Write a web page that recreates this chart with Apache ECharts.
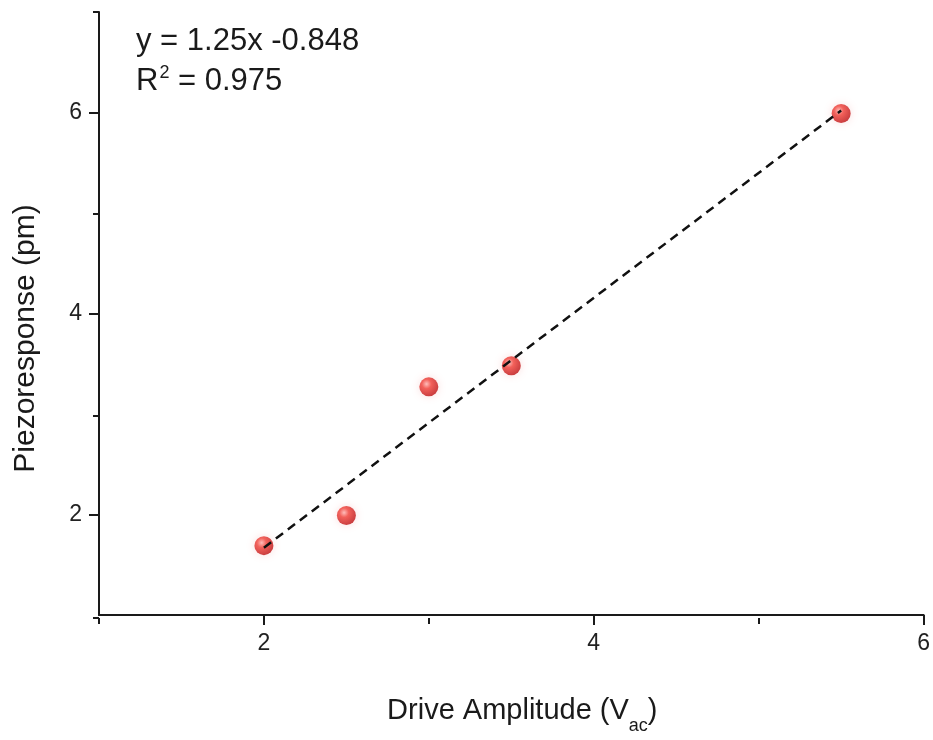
<!DOCTYPE html>
<html>
<head>
<meta charset="utf-8">
<script src="https://cdn.jsdelivr.net/npm/echarts@6/dist/echarts.min.js"></script>
<style>
  html, body { margin: 0; padding: 0; background: #fff; }
  #chart { width: 933px; height: 740px; }
</style>
</head>
<body>
<div id="chart"></div>
<script>
// measured points
let driveAmp = [2, 2.5, 3, 3.5, 5.5];
let piezo = [1.69, 1.99, 3.27, 3.48, 5.99];

// ends of the dashed fit line
let fitX = [2, 5.5];
let fitY = [1.67, 6.02];

let xMajor = [2, 4, 6];
let xMinor = [1, 3, 5];
let yMajor = [2, 4, 6];
let yMinor = [1, 3, 5, 7];

const FONT = "'Liberation Sans', Arial, sans-serif";
const INK = '#1a1a1a';

let chart = echarts.init(document.getElementById('chart'));

let gridBox = { left: 99, right: 9, top: 12, bottom: 122 };

let ballColor = {
    type: 'radial',
    x: 0.38, y: 0.35, r: 0.7,
    colorStops: [
        { offset: 0, color: '#ffb4b0' },
        { offset: 0.35, color: '#f04038' },
        { offset: 1, color: '#b80d10' }
    ]
};

let option = {
    backgroundColor: '#fff',
    animation: false,
    textStyle: { fontFamily: FONT },
    title: {
        left: 136,
        top: 21,
        padding: 0,
        text: '{a|y = 1.25x -0.848}\n{a|R}{s|2}{a| = 0.975}',
        textStyle: {
            fontWeight: 'normal',
            rich: {
                a: { fontSize: 31, fontWeight: 'normal', color: INK, fontFamily: FONT, lineHeight: 40, verticalAlign: 'middle' },
                s: { fontSize: 18, fontWeight: 'normal', color: INK, fontFamily: FONT, lineHeight: 40, verticalAlign: 'top', padding: [3, 0, 0, 1] }
            }
        }
    },
    grid: [
        Object.assign({}, gridBox),
        Object.assign({}, gridBox)
    ],
    xAxis: [
        {
            type: 'value', gridIndex: 0,
            min: 1, max: 6, interval: 1,
            splitLine: { show: false },
            axisLine: { lineStyle: { color: INK, width: 2 } },
            axisTick: { length: 10, lineStyle: { color: INK, width: 2 }, customValues: xMajor },
            axisLabel: { fontSize: 23, color: '#222', margin: 17, customValues: xMajor },
            name: '{n|Drive Amplitude (V}{sub|ac}{n|)}',
            nameLocation: 'middle',
            nameGap: 78,
            nameTextStyle: {
                padding: [0, 0, 0, 22],
                rich: {
                    n: { fontSize: 29, color: INK, fontFamily: FONT, lineHeight: 36, verticalAlign: 'middle' },
                    sub: { fontSize: 18, color: INK, fontFamily: FONT, lineHeight: 36, verticalAlign: 'bottom', padding: [0, 0, -6, 0] }
                }
            }
        },
        {
            type: 'value', gridIndex: 1,
            min: 1, max: 6, interval: 1,
            splitLine: { show: false },
            axisLine: { show: false },
            axisTick: { length: 6, lineStyle: { color: INK, width: 2 }, customValues: xMinor },
            axisLabel: { show: false }
        }
    ],
    yAxis: [
        {
            type: 'value', gridIndex: 0,
            min: 1, max: 7, interval: 1,
            splitLine: { show: false },
            axisLine: { show: true, lineStyle: { color: INK, width: 2 } },
            axisTick: { show: true, length: 10, lineStyle: { color: INK, width: 2 }, customValues: yMajor },
            axisLabel: { fontSize: 23, color: '#222', margin: 17, customValues: yMajor },
            name: 'Piezoresponse (pm)',
            nameLocation: 'middle',
            nameGap: 58,
            nameTextStyle: { fontSize: 30, color: INK, fontFamily: FONT, padding: [0, 50, 0, 0] }
        },
        {
            type: 'value', gridIndex: 1,
            min: 1, max: 7, interval: 1,
            splitLine: { show: false },
            axisLine: { show: false },
            axisTick: { show: true, length: 6, lineStyle: { color: INK, width: 2 }, customValues: yMinor },
            axisLabel: { show: false }
        }
    ],
    series: [
        {
            type: 'scatter',
            xAxisIndex: 0, yAxisIndex: 0,
            symbolSize: 19,
            data: driveAmp.map((x, i) => [x, piezo[i]]),
            itemStyle: {
                color: ballColor,
                shadowColor: 'rgba(240,90,90,0.25)',
                shadowBlur: 8
            },
            z: 2
        },
        {
            type: 'line',
            xAxisIndex: 0, yAxisIndex: 0,
            data: fitX.map((x, i) => [x, fitY[i]]),
            showSymbol: false,
            symbol: 'none',
            lineStyle: { color: '#111', width: 2.5, type: [9, 6] },
            z: 3
        }
    ]
};

chart.setOption(option);
</script>
</body>
</html>
